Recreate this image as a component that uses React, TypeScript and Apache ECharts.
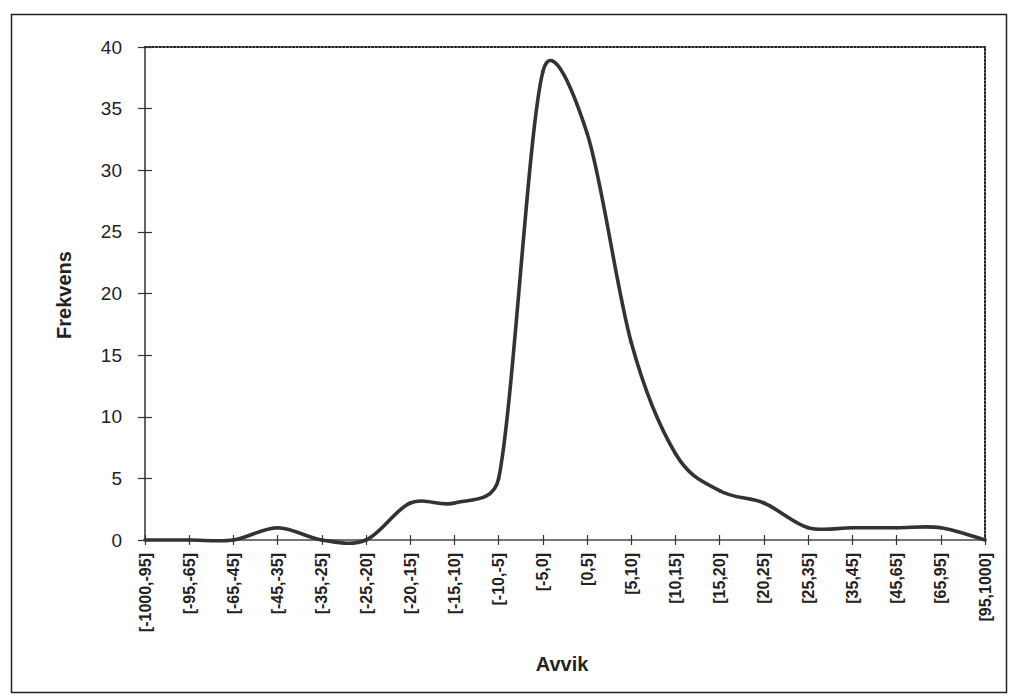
import React, { useEffect, useRef } from "react";
import * as echarts from "echarts";

const categories = [
  "[-1000,-95]", "[-95,-65]", "[-65,-45]", "[-45,-35]", "[-35,-25]",
  "[-25,-20]", "[-20,-15]", "[-15,-10]", "[-10,-5]", "[-5,0]",
  "[0,5]", "[5,10]", "[10,15]", "[15,20]", "[20,25]",
  "[25,35]", "[35,45]", "[45,65]", "[65,95]", "[95,1000]",
];
const frekvens = [0, 0, 0, 1, 0, 0, 3, 3, 5, 38, 33, 16, 7, 4, 3, 1, 1, 1, 1, 0];
const yMin = 0;
const yMax = 40;
const yInterval = 5;

const FONT = '"Liberation Sans", Arial, Helvetica, sans-serif';

function ctrl(a: number[], b: number[], c: number[], segLen: number) {
  const vx = (c[0] - a[0]) / 6;
  const vy = (c[1] - a[1]) / 6;
  const m = Math.hypot(vx, vy);
  const lim = segLen / 2;
  const k = m > lim && m > 0 ? lim / m : 1;
  return [vx * k, vy * k];
}

export default function App() {
  const ref = useRef<HTMLDivElement>(null);
  useEffect(() => {
    if (!ref.current) return;
    const chart = echarts.init(ref.current, undefined, { renderer: "svg" });
    const n = frekvens.length;
    const option: any = {
      animation: false,
      backgroundColor: "#ffffff",
      grid: { left: 145, right: 29, top: 47, bottom: 157, containLabel: false },
      xAxis: [
        {
          type: "category",
          data: categories,
          boundaryGap: false,
          position: "bottom",
          axisLine: { show: true, onZero: false, lineStyle: { color: "#5a4242", width: 1.5 } },
          axisTick: { show: true, length: 5, interval: 0, lineStyle: { color: "#333", width: 1.2 } },
          axisLabel: {
            interval: 0,
            rotate: 90,
            margin: 13,
            fontSize: 16,
            fontWeight: "bold",
            fontFamily: FONT,
            color: "#222",
          },
          splitLine: { show: false },
        },
        {
          type: "category",
          data: categories,
          boundaryGap: false,
          position: "bottom",
          axisLine: { show: false, onZero: false },
          axisTick: { show: true, inside: true, length: 5, interval: 0, lineStyle: { color: "#333", width: 1.2 } },
          axisLabel: { show: false },
          splitLine: { show: false },
        },
        {
          type: "category",
          data: categories,
          boundaryGap: false,
          position: "top",
          axisLine: { show: true, onZero: false, lineStyle: { color: "#222", width: 2, type: [1.6, 2] } },
          axisTick: { show: false },
          axisLabel: { show: false },
          splitLine: { show: false },
        },
      ],
      yAxis: [
        {
          type: "value",
          min: yMin,
          max: yMax,
          interval: yInterval,
          position: "left",
          axisLine: { show: true, onZero: false, lineStyle: { color: "#333", width: 1.5 } },
          axisTick: { show: true, length: 7, lineStyle: { color: "#333", width: 1.2 } },
          axisLabel: { margin: 23, fontSize: 19, fontFamily: FONT, color: "#222" },
          splitLine: { show: false },
        },
        {
          type: "value",
          min: yMin,
          max: yMax,
          interval: yInterval,
          position: "left",
          axisLine: { show: false, onZero: false },
          axisTick: { show: true, inside: true, length: 7, lineStyle: { color: "#333", width: 1.2 } },
          axisLabel: { show: false },
          splitLine: { show: false },
        },
        {
          type: "value",
          min: yMin,
          max: yMax,
          interval: yInterval,
          position: "right",
          axisLine: { show: true, onZero: false, lineStyle: { color: "#222", width: 2, type: [1.6, 2] } },
          axisTick: { show: false },
          axisLabel: { show: false },
          splitLine: { show: false },
        },
      ],
      graphic: [
        {
          type: "rect",
          left: 9,
          top: 12,
          shape: { x: 0, y: 0, width: 995, height: 678 },
          style: { fill: "none", stroke: "#222", lineWidth: 1.5 },
          silent: true,
          z: -10,
        },
        {
          type: "text",
          x: 64,
          y: 295,
          rotation: Math.PI / 2,
          style: {
            text: "Frekvens",
            fontSize: 20,
            fontWeight: "bold",
            fontFamily: FONT,
            fill: "#222",
            align: "center",
            verticalAlign: "middle",
          },
        },
        {
          type: "text",
          x: 562,
          y: 664,
          style: {
            text: "Avvik",
            fontSize: 20,
            fontWeight: "bold",
            fontFamily: FONT,
            fill: "#222",
            align: "center",
            verticalAlign: "middle",
          },
        },
      ],
      series: [
        {
          name: "Frekvens",
          type: "custom",
          xAxisIndex: 0,
          yAxisIndex: 0,
          clip: false,
          encode: { x: 0, y: 1 },
          data: frekvens.map((v, i) => [i, v]),
          renderItem: (params: any, api: any) => {
            const i = params.dataIndex;
            if (i >= n - 1) return { type: "group", children: [] };
            const pt = (k: number) => {
              const kk = Math.max(0, Math.min(n - 1, k));
              return api.coord([kk, frekvens[kk]]);
            };
            const p0 = pt(i - 1);
            const p1 = pt(i);
            const p2 = pt(i + 1);
            const p3 = pt(i + 2);
            const d12 = Math.hypot(p2[0] - p1[0], p2[1] - p1[1]);
            const o1 = ctrl(p0, p1, p2, d12);
            const o2 = ctrl(p1, p2, p3, d12);
            return {
              type: "bezierCurve",
              shape: {
                x1: p1[0],
                y1: p1[1],
                x2: p2[0],
                y2: p2[1],
                cpx1: p1[0] + o1[0],
                cpy1: p1[1] + o1[1],
                cpx2: p2[0] - o2[0],
                cpy2: p2[1] - o2[1],
              },
              style: { stroke: "#333333", lineWidth: 3.6, fill: "none", lineCap: "round", lineJoin: "round" },
            };
          },
        },
      ],
    };
    chart.setOption(option);
    return () => chart.dispose();
  }, []);
  return (
    <div
      ref={ref}
      style={{ position: "fixed", left: 0, top: 0, width: 1014, height: 697, background: "#fff" }}
    />
  );
}
